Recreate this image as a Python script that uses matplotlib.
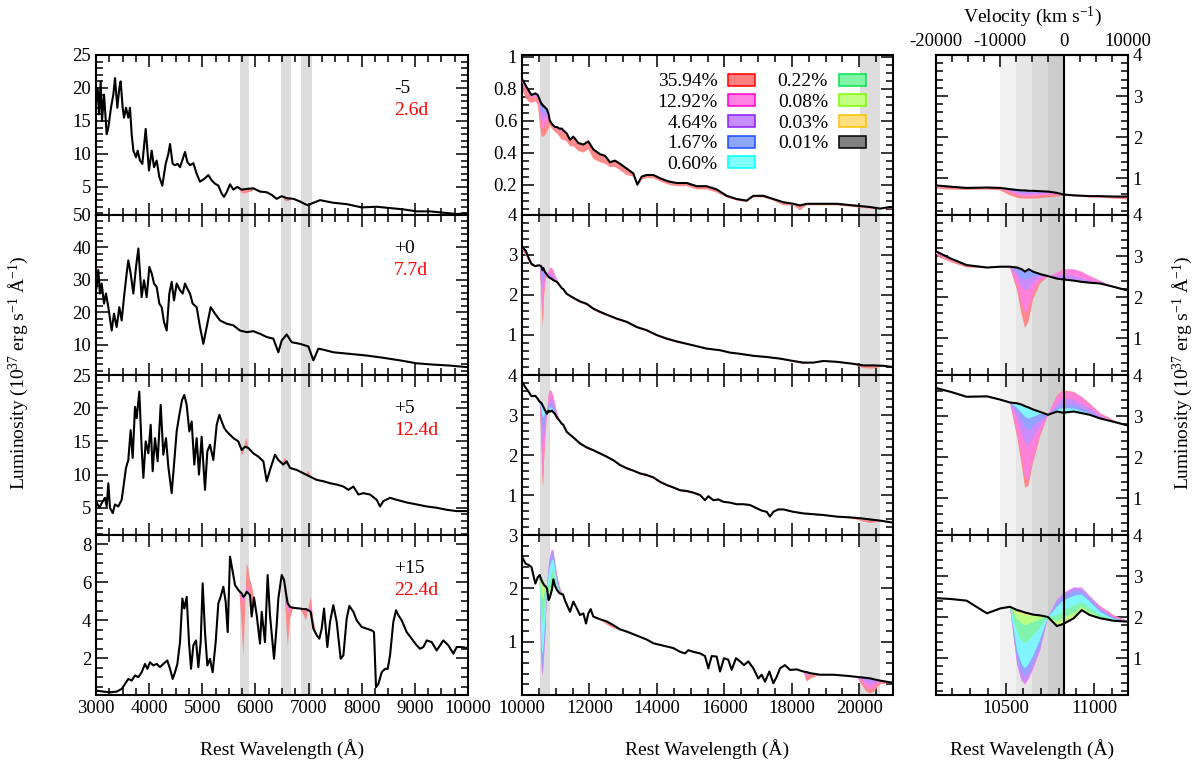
import matplotlib
matplotlib.use("Agg")
import matplotlib.pyplot as plt
from matplotlib.colors import to_rgb
from matplotlib.patches import Patch
from matplotlib.ticker import MultipleLocator, FormatStrFormatter

plt.rcParams.update(
    {
        "font.family": "serif",
        "font.serif": ["Liberation Serif", "DejaVu Serif"],
        "mathtext.fontset": "custom",
        "mathtext.rm": "Liberation Serif",
        "mathtext.it": "Liberation Serif:italic",
        "axes.unicode_minus": False,
        "axes.linewidth": 1.5,
    }
)

C_KMS = 299792.458
HE_REST = 10830.0

epochs = ["-5", "+0", "+5", "+15"]
phases = ["2.6d", "7.7d", "12.4d", "22.4d"]
model_labels = ["35.94%", "12.92%", "4.64%", "1.67%", "0.60%", "0.22%", "0.08%", "0.03%", "0.01%"]
model_colors = ["#ff0000", "#ff00c8", "#8c1aff", "#1a4dff", "#00ffff", "#00e64d", "#80ff00", "#ffbf00", "#000000"]

# ---------------- optical spectra (wavelength, luminosity) ----------------
opt_m5 = [(3000, 18.0), (3031, 20.0), (3056, 16.0), (3088, 21.0), (3113, 15.0), (3151, 19.0), (3201, 13.0),
          (3232, 14.0), (3282, 17.0), (3326, 19.0), (3358, 21.5), (3401, 17.0), (3439, 20.0), (3464, 21.0),
          (3502, 17.0), (3527, 15.5), (3565, 17.0), (3608, 15.5), (3640, 17.0), (3671, 13.0), (3703, 10.5),
          (3753, 9.5), (3784, 10.5), (3828, 9.0), (3872, 8.5), (3935, 13.8), (3997, 7.5), (4048, 10.5),
          (4092, 8.0), (4142, 9.0), (4192, 6.5), (4248, 5.2), (4311, 8.5), (4361, 10.0), (4393, 11.5),
          (4443, 8.5), (4487, 8.3), (4537, 8.5), (4581, 8.0), (4631, 9.2), (4675, 10.3), (4719, 8.8),
          (4769, 8.3), (4832, 8.6), (4894, 7.0), (4957, 5.8), (5033, 6.2), (5114, 6.8), (5177, 6.0),
          (5239, 5.5), (5302, 5.2), (5365, 4.0), (5409, 3.5), (5459, 4.2), (5522, 5.4), (5584, 4.6),
          (5660, 5.0), (5741, 4.6), (5835, 4.7), (5961, 4.8), (6086, 4.3), (6212, 4.2), (6306, 3.8),
          (6400, 3.2), (6494, 3.6), (6588, 3.3), (6714, 3.2), (6839, 2.8), (6933, 2.4), (6996, 2.2),
          (7059, 2.5), (7216, 3.0), (7467, 2.6), (7717, 2.4), (8000, 1.9), (8282, 2.0), (8533, 1.8),
          (8784, 1.6), (9035, 1.3), (9286, 1.3), (9536, 1.1), (9787, 0.9), (10000, 1.0)]

opt_p0 = [(3000, 27.0), (3013, 27.8), (3044, 33.0), (3075, 25.8), (3107, 28.9), (3151, 22.7), (3188, 25.8),
          (3232, 21.6), (3295, 14.4), (3339, 19.6), (3389, 15.5), (3439, 21.6), (3483, 17.5), (3527, 24.7),
          (3577, 32.0), (3608, 36.0), (3652, 32.0), (3703, 25.8), (3753, 34.0), (3797, 39.7), (3828, 32.0),
          (3859, 24.7), (3903, 29.9), (3953, 24.7), (4004, 34.0), (4048, 32.0), (4092, 28.9), (4142, 27.8),
          (4192, 22.7), (4236, 21.6), (4280, 17.0), (4330, 14.4), (4380, 25.8), (4424, 29.4), (4468, 23.7),
          (4518, 28.9), (4581, 26.8), (4631, 25.8), (4675, 28.9), (4719, 27.3), (4769, 25.8), (4819, 22.7),
          (4894, 21.6), (4957, 15.5), (5020, 10.3), (5083, 15.5), (5158, 21.6), (5239, 19.6), (5334, 17.5),
          (5459, 16.5), (5584, 16.0), (5710, 14.4), (5835, 13.9), (5961, 14.2), (6086, 13.4), (6212, 12.4),
          (6337, 11.9), (6431, 7.7), (6494, 11.3), (6588, 13.2), (6682, 10.8), (6839, 10.3), (6996, 9.5),
          (7090, 5.2), (7184, 8.8), (7278, 8.5), (7467, 7.7), (7780, 7.2), (8094, 6.7), (8407, 6.0),
          (8721, 5.2), (9035, 4.3), (9348, 3.9), (9662, 3.6), (10000, 3.1)]

opt_p5 = [(3000, 6.0), (3063, 5.0), (3107, 5.7), (3169, 6.5), (3201, 5.2), (3232, 8.7), (3263, 5.0),
          (3314, 4.2), (3357, 5.5), (3420, 5.2), (3483, 6.2), (3514, 8.0), (3564, 11.0), (3608, 12.2),
          (3652, 16.7), (3690, 12.5), (3734, 20.2), (3765, 18.5), (3815, 22.5), (3859, 14.0), (3891, 9.5),
          (3935, 15.0), (3985, 13.2), (4029, 17.5), (4066, 10.5), (4110, 15.5), (4160, 12.0), (4217, 20.5),
          (4267, 13.0), (4317, 15.5), (4361, 11.2), (4424, 7.2), (4468, 11.5), (4518, 16.5), (4568, 19.0),
          (4618, 21.2), (4662, 22.0), (4706, 20.5), (4756, 16.5), (4800, 18.0), (4850, 11.5), (4894, 15.5),
          (4938, 10.0), (4988, 15.7), (5051, 7.7), (5095, 13.5), (5145, 14.5), (5208, 12.2), (5271, 17.5),
          (5321, 19.0), (5365, 18.0), (5415, 17.0), (5459, 16.5), (5522, 16.0), (5584, 15.5), (5678, 15.0),
          (5741, 13.7), (5804, 14.2), (5867, 14.0), (5961, 13.2), (6055, 12.7), (6149, 12.0), (6212, 9.0),
          (6274, 10.7), (6368, 13.0), (6431, 12.2), (6525, 11.5), (6588, 12.0), (6651, 11.0), (6776, 10.7),
          (6902, 10.2), (7027, 9.7), (7153, 9.2), (7278, 9.0), (7404, 8.7), (7529, 8.5), (7655, 8.2),
          (7749, 7.7), (7843, 8.2), (7937, 7.0), (8031, 7.2), (8156, 7.0), (8282, 6.2), (8345, 5.2),
          (8407, 6.0), (8533, 6.5), (8658, 6.2), (8846, 5.8), (9035, 5.5), (9223, 5.2), (9411, 5.0),
          (9599, 4.7), (9787, 4.5), (9976, 4.5)]

opt_p15 = [(3000, 0.30), (3012, 0.29), (3138, 0.24), (3263, 0.20), (3389, 0.24), (3483, 0.38), (3546, 0.64),
           (3608, 0.91), (3671, 0.82), (3734, 1.09), (3797, 1.00), (3859, 1.26), (3922, 1.70), (3966, 1.44),
           (4016, 1.79), (4079, 1.62), (4142, 1.70), (4204, 1.53), (4267, 1.70), (4342, 1.88), (4393, 1.44),
           (4443, 0.91), (4487, 1.26), (4531, 1.70), (4581, 2.85), (4625, 5.15), (4662, 4.62), (4706, 5.24),
           (4750, 2.85), (4788, 1.44), (4832, 2.68), (4882, 2.94), (4926, 1.53), (4970, 2.85), (5007, 5.95),
           (5051, 3.38), (5095, 1.62), (5145, 1.97), (5195, 1.26), (5252, 2.85), (5302, 4.89), (5346, 5.24),
           (5396, 5.77), (5440, 4.98), (5478, 3.38), (5522, 7.36), (5572, 6.57), (5616, 5.86), (5678, 5.60),
           (5697, 5.54), (5741, 5.42), (5773, 5.24), (5804, 5.33), (5835, 5.51), (5867, 5.42), (5898, 5.33),
           (5929, 4.20), (5973, 5.20), (6024, 4.27), (6086, 2.77), (6118, 4.45), (6180, 2.85), (6230, 6.39),
           (6274, 4.27), (6350, 1.97), (6400, 3.74), (6431, 5.15), (6494, 6.39), (6538, 6.13), (6576, 5.42),
           (6607, 4.89), (6651, 4.71), (6714, 4.66), (6839, 4.62), (6902, 4.59), (6952, 4.59), (6996, 4.53),
           (7040, 4.45), (7090, 3.56), (7153, 3.21), (7203, 3.03), (7247, 3.56), (7291, 4.62), (7353, 2.59),
           (7404, 3.92), (7466, 4.80), (7529, 3.92), (7604, 1.97), (7655, 2.15), (7717, 4.09), (7767, 4.76),
           (7843, 4.45), (7905, 4.00), (7999, 3.65), (8094, 3.56), (8188, 3.47), (8231, 3.38), (8269, 0.47),
           (8313, 0.64), (8376, 1.26), (8439, 1.44), (8489, 1.44), (8533, 2.15), (8595, 3.92), (8646, 4.53),
           (8690, 4.27), (8752, 4.00), (8846, 3.38), (8940, 3.03), (9035, 2.68), (9097, 2.50), (9160, 2.59),
           (9223, 2.94), (9317, 2.85), (9411, 2.41), (9474, 2.68), (9536, 2.94), (9630, 2.68), (9725, 2.24),
           (9787, 2.59), (9881, 2.59), (10000, 2.53)]

# model deviations in the optical He I bands: (wavelength, 0.01% model, 35.94% model[, 12.92% model])
opt_fill_m5 = [(5660, 5.0, 5.0), (5741, 4.6, 4.1), (5804, 4.7, 4.0), (5867, 4.7, 4.2), (5929, 4.8, 4.3),
               (5992, 4.7, 4.7), (6400, 3.2, 3.2), (6494, 3.6, 3.6), (6557, 3.4, 2.9), (6620, 3.28, 2.8),
               (6682, 3.22, 3.22)]
opt_fill_p0 = [(3013, 27.8, 27.8), (3031, 30.5, 31.5), (3044, 33.0, 35.0), (3060, 29.0, 30.0), (3075, 25.8, 25.8)]
opt_fill_p5 = [(5678, 15.0, 15.0), (5710, 14.85, 14.85), (5741, 13.7, 12.9), (5773, 13.9, 13.2), (5804, 14.2, 14.8),
               (5835, 14.1, 15.5), (5867, 14.0, 14.0), (5961, 13.2, 13.2), (6431, 12.2, 12.2), (6494, 11.7, 11.7),
               (6557, 11.8, 12.6), (6620, 11.3, 11.3), (6651, 11.0, 11.0), (6902, 10.2, 10.2), (6952, 10.0, 10.0),
               (6996, 9.9, 10.6), (7040, 9.8, 9.8), (7070, 9.7, 9.7)]
opt_fill_p15 = [(5678, 5.60, 5.60, 5.60), (5697, 5.54, 5.54, 5.54), (5741, 5.42, 3.74, 4.89), (5773, 5.24, 2.15, 4.89),
                (5804, 5.33, 4.27, 5.15), (5835, 5.51, 7.01, 5.86), (5867, 5.42, 6.74, 5.68), (5898, 5.33, 6.13, 5.51),
                (5929, 4.20, 5.90, 4.50), (5973, 5.20, 5.20, 5.20), (6400, 3.74, 3.74, 3.74), (6431, 5.15, 5.15, 5.15),
                (6494, 6.39, 6.39, 6.39), (6538, 6.13, 6.04, 6.09), (6576, 5.42, 4.09, 4.80), (6607, 4.89, 2.59, 4.36),
                (6651, 4.71, 4.09, 4.59), (6714, 4.66, 4.66, 4.66), (6839, 4.62, 4.62, 4.62), (6902, 4.59, 4.30, 4.59),
                (6952, 4.59, 4.00, 4.45), (6996, 4.53, 4.62, 4.53), (7040, 4.45, 5.24, 4.70), (7090, 3.56, 4.09, 3.70),
                (7153, 3.21, 3.21, 3.21)]

# ---------------- He I 10830 region, all models on one wavelength grid ----------------
he_wl = [10000, 10110, 10190, 10280, 10395, 10470, 10525, 10565, 10590, 10610, 10630, 10655,
         10695, 10740, 10790, 10825, 10885, 10930, 10975, 11035, 11110, 11180, 11220]

he_lum_m5 = [0.86, 0.82, 0.79, 0.76, 0.77, 0.76, 0.73, 0.71, 0.70, 0.70, 0.69, 0.69, 0.68, 0.67, 0.64, 0.60, 0.58, 0.57, 0.56, 0.56, 0.55, 0.55, 0.54]
he_mod_m5 = [
    [0.80, 0.74, 0.72, 0.71, 0.72, 0.70, 0.58, 0.52, 0.50, 0.50, 0.50, 0.50, 0.51, 0.53, 0.55, 0.57, 0.55, 0.54, 0.53, 0.52, 0.50, 0.48, 0.48],
    [0.84, 0.79, 0.77, 0.74, 0.75, 0.74, 0.66, 0.59, 0.56, 0.55, 0.55, 0.56, 0.57, 0.59, 0.61, 0.59, 0.57, 0.56, 0.55, 0.55, 0.54, 0.53, 0.52],
    [0.85, 0.81, 0.78, 0.75, 0.76, 0.75, 0.69, 0.63, 0.61, 0.60, 0.60, 0.61, 0.62, 0.63, 0.63, 0.60, 0.58, 0.57, 0.56, 0.56, 0.55, 0.54, 0.53],
    [0.86, 0.82, 0.79, 0.76, 0.77, 0.76, 0.71, 0.67, 0.65, 0.65, 0.65, 0.65, 0.65, 0.65, 0.64, 0.60, 0.58, 0.57, 0.56, 0.56, 0.55, 0.55, 0.54],
]

he_lum_p0 = [3.20, 3.11, 2.94, 2.78, 2.72, 2.74, 2.74, 2.72, 2.68, 2.62, 2.68, 2.62, 2.56, 2.51, 2.45, 2.43, 2.40, 2.37, 2.35, 2.33, 2.25, 2.17, 2.15]
he_mod_p0 = [
    [3.10, 3.00, 2.85, 2.72, 2.70, 2.73, 2.72, 2.17, 1.60, 1.24, 1.40, 1.94, 2.33, 2.50, 2.55, 2.66, 2.66, 2.60, 2.50, 2.38, 2.24, 2.15, 2.12],
    [3.15, 3.05, 2.90, 2.76, 2.71, 2.74, 2.73, 2.30, 1.85, 1.60, 1.70, 2.10, 2.40, 2.50, 2.60, 2.68, 2.68, 2.62, 2.52, 2.40, 2.25, 2.17, 2.15],
    [3.20, 3.11, 2.94, 2.78, 2.72, 2.74, 2.74, 2.50, 2.25, 2.17, 2.20, 2.35, 2.48, 2.51, 2.52, 2.55, 2.52, 2.46, 2.40, 2.35, 2.25, 2.17, 2.15],
    [3.20, 3.11, 2.94, 2.78, 2.72, 2.74, 2.74, 2.62, 2.45, 2.42, 2.45, 2.50, 2.54, 2.51, 2.47, 2.46, 2.40, 2.37, 2.35, 2.33, 2.25, 2.17, 2.15],
]

he_lum_p5 = [3.83, 3.68, 3.59, 3.47, 3.48, 3.40, 3.33, 3.31, 3.28, 3.24, 3.21, 3.16, 3.10, 3.03, 3.11, 3.08, 3.11, 3.07, 3.03, 2.94, 2.86, 2.78, 2.76]
he_mod_p5 = [
    [3.80, 3.65, 3.57, 3.45, 3.46, 3.39, 3.33, 2.50, 1.85, 1.25, 1.30, 1.85, 2.50, 3.03, 3.50, 3.63, 3.59, 3.47, 3.31, 3.07, 2.90, 2.78, 2.76],
    [3.83, 3.68, 3.59, 3.47, 3.48, 3.40, 3.33, 2.60, 2.05, 1.50, 1.45, 1.95, 2.55, 3.03, 3.48, 3.60, 3.57, 3.45, 3.28, 3.05, 2.88, 2.78, 2.76],
    [3.83, 3.68, 3.59, 3.47, 3.48, 3.40, 3.33, 2.95, 2.60, 2.35, 2.27, 2.45, 2.75, 3.03, 3.30, 3.43, 3.40, 3.30, 3.18, 3.00, 2.87, 2.78, 2.76],
    [3.83, 3.68, 3.59, 3.47, 3.48, 3.40, 3.33, 3.10, 2.90, 2.72, 2.66, 2.75, 2.90, 3.03, 3.20, 3.30, 3.28, 3.20, 3.10, 2.97, 2.86, 2.78, 2.76],
    [3.83, 3.68, 3.59, 3.47, 3.48, 3.40, 3.33, 3.20, 3.08, 2.98, 2.94, 2.98, 3.05, 3.03, 3.15, 3.19, 3.18, 3.12, 3.05, 2.94, 2.86, 2.78, 2.76],
]

he_lum_p15 = [2.59, 2.46, 2.44, 2.40, 2.09, 2.21, 2.25, 2.17, 2.14, 2.11, 2.09, 2.06, 2.04, 2.00, 1.78, 1.83, 1.97, 2.17, 2.05, 1.97, 1.91, 1.89, 1.88]
he_mod_p15 = [
    [2.59, 2.46, 2.44, 2.40, 2.09, 2.21, 2.25, 1.10, 0.70, 0.60, 0.70, 0.95, 1.35, 2.00, 2.30, 2.45, 2.60, 2.62, 2.50, 2.27, 2.05, 1.93, 1.90],
    [2.59, 2.46, 2.44, 2.40, 2.09, 2.21, 2.25, 0.85, 0.45, 0.35, 0.48, 0.72, 1.18, 2.00, 2.40, 2.57, 2.72, 2.72, 2.52, 2.25, 2.03, 1.92, 1.90],
    [2.59, 2.46, 2.44, 2.40, 2.09, 2.21, 2.25, 0.87, 0.47, 0.39, 0.51, 0.75, 1.20, 2.00, 2.42, 2.58, 2.72, 2.70, 2.50, 2.21, 2.00, 1.91, 1.89],
    [2.59, 2.46, 2.44, 2.40, 2.09, 2.21, 2.25, 1.00, 0.65, 0.55, 0.65, 0.88, 1.30, 2.00, 2.35, 2.50, 2.64, 2.64, 2.45, 2.18, 1.98, 1.90, 1.88],
    [2.59, 2.46, 2.44, 2.40, 2.09, 2.21, 2.25, 1.20, 0.85, 0.75, 0.85, 1.05, 1.45, 2.00, 2.25, 2.40, 2.52, 2.55, 2.38, 2.12, 1.96, 1.89, 1.88],
    [2.59, 2.46, 2.44, 2.40, 2.09, 2.21, 2.25, 1.65, 1.42, 1.36, 1.42, 1.55, 1.75, 2.00, 2.05, 2.15, 2.28, 2.37, 2.22, 2.05, 1.94, 1.89, 1.88],
    [2.59, 2.46, 2.44, 2.40, 2.09, 2.21, 2.25, 1.95, 1.85, 1.80, 1.82, 1.88, 1.95, 2.00, 1.90, 1.98, 2.10, 2.25, 2.12, 2.00, 1.92, 1.89, 1.88],
    [2.59, 2.46, 2.44, 2.40, 2.09, 2.21, 2.25, 2.12, 2.07, 2.05, 2.04, 2.03, 2.02, 2.00, 1.82, 1.88, 2.02, 2.20, 2.08, 1.98, 1.91, 1.89, 1.88],
]

# ---------------- NIR beyond 11220 A: (wavelength, 0.01% model, 35.94% model[, 12.92%, 4.64%]) ----------------
nir_m5 = [(11325, 0.52, 0.47), (11423, 0.48, 0.44), (11522, 0.50, 0.44), (11671, 0.46, 0.41), (11819, 0.45, 0.40),
          (11967, 0.47, 0.42), (12115, 0.42, 0.36), (12313, 0.39, 0.34), (12461, 0.38, 0.33), (12609, 0.34, 0.31),
          (12758, 0.35, 0.31), (12906, 0.33, 0.29), (13104, 0.30, 0.26), (13301, 0.27, 0.25), (13420, 0.20, 0.19),
          (13548, 0.25, 0.23), (13697, 0.26, 0.24), (13894, 0.26, 0.24), (14092, 0.24, 0.22), (14339, 0.22, 0.20),
          (14586, 0.21, 0.19), (14883, 0.21, 0.19), (15179, 0.19, 0.17), (15475, 0.19, 0.17), (15772, 0.17, 0.15),
          (16068, 0.13, 0.12), (16365, 0.11, 0.10), (16661, 0.10, 0.09), (16859, 0.13, 0.12), (17156, 0.13, 0.12),
          (17452, 0.11, 0.10), (17749, 0.09, 0.07), (18045, 0.08, 0.07), (18243, 0.07, 0.04), (18440, 0.08, 0.07),
          (18836, 0.08, 0.07), (19330, 0.08, 0.07), (19824, 0.07, 0.06), (20318, 0.06, 0.05), (20615, 0.05, 0.05),
          (20911, 0.06, 0.05), (21000, 0.06, 0.05)]

nir_p0 = [(11325, 2.03, 2.00), (11522, 1.93, 1.90), (11720, 1.84, 1.80), (11918, 1.78, 1.74), (12115, 1.66, 1.62),
          (12313, 1.58, 1.54), (12511, 1.51, 1.48), (12807, 1.41, 1.38), (13104, 1.33, 1.30), (13400, 1.20, 1.17),
          (13697, 1.12, 1.09), (13993, 1.00, 0.97), (14290, 0.91, 0.88), (14586, 0.84, 0.81), (14883, 0.78, 0.76),
          (15179, 0.72, 0.70), (15475, 0.66, 0.64), (15871, 0.62, 0.60), (16167, 0.56, 0.54), (16464, 0.53, 0.51),
          (16859, 0.48, 0.46), (17254, 0.45, 0.43), (17650, 0.41, 0.39), (18045, 0.35, 0.33), (18341, 0.31, 0.27),
          (18638, 0.31, 0.30), (18935, 0.35, 0.34), (19330, 0.33, 0.32), (19824, 0.28, 0.27), (20120, 0.24, 0.17),
          (20417, 0.24, 0.16), (20713, 0.23, 0.22), (21000, 0.20, 0.20)]

nir_p5 = [(11325, 2.58, 2.55), (11522, 2.44, 2.41), (11720, 2.29, 2.26), (11918, 2.19, 2.16), (12115, 2.12, 2.09),
          (12313, 2.04, 2.01), (12511, 1.96, 1.93), (12708, 1.87, 1.84), (12906, 1.75, 1.72), (13104, 1.67, 1.64),
          (13301, 1.61, 1.58), (13499, 1.54, 1.51), (13697, 1.50, 1.47), (13894, 1.44, 1.41), (14092, 1.33, 1.30),
          (14290, 1.25, 1.22), (14487, 1.19, 1.16), (14685, 1.12, 1.09), (14883, 1.10, 1.07), (15080, 1.06, 1.03),
          (15278, 1.00, 0.97), (15426, 0.87, 0.85), (15525, 0.97, 0.95), (15673, 0.87, 0.85), (15821, 0.89, 0.87),
          (15970, 0.83, 0.81), (16167, 0.81, 0.79), (16365, 0.77, 0.75), (16563, 0.77, 0.75), (16760, 0.75, 0.73),
          (16958, 0.67, 0.65), (17106, 0.61, 0.59), (17254, 0.58, 0.56), (17353, 0.46, 0.44), (17452, 0.58, 0.56),
          (17601, 0.64, 0.62), (17749, 0.64, 0.62), (18045, 0.58, 0.56), (18341, 0.54, 0.52), (18638, 0.52, 0.50),
          (18935, 0.50, 0.48), (19330, 0.46, 0.44), (19725, 0.44, 0.42), (20022, 0.42, 0.36), (20318, 0.39, 0.30),
          (20615, 0.36, 0.33), (20990, 0.31, 0.31)]

nir_p15 = [(11275, 1.77, 1.77, 1.77, 1.77), (11423, 1.56, 1.56, 1.56, 1.56), (11522, 1.75, 1.75, 1.75, 1.75),
           (11621, 1.63, 1.63, 1.63, 1.63), (11720, 1.50, 1.50, 1.50, 1.50), (11819, 1.53, 1.53, 1.53, 1.53),
           (11898, 1.34, 1.34, 1.34, 1.34), (11967, 1.53, 1.53, 1.53, 1.53), (12036, 1.61, 1.61, 1.61, 1.61),
           (12115, 1.47, 1.47, 1.47, 1.47), (12313, 1.42, 1.42, 1.42, 1.42), (12511, 1.38, 1.32, 1.38, 1.38),
           (12708, 1.31, 1.25, 1.31, 1.31), (12906, 1.23, 1.23, 1.23, 1.23), (13104, 1.19, 1.19, 1.19, 1.19),
           (13301, 1.14, 1.14, 1.14, 1.14), (13499, 1.09, 1.09, 1.09, 1.09), (13697, 1.04, 1.04, 1.04, 1.04),
           (13894, 0.97, 0.97, 0.97, 0.97), (14092, 0.94, 0.94, 0.94, 0.94), (14290, 0.91, 0.91, 0.91, 0.91),
           (14487, 0.88, 0.88, 0.88, 0.88), (14685, 0.81, 0.81, 0.81, 0.81), (14833, 0.78, 0.78, 0.78, 0.78),
           (14932, 0.84, 0.84, 0.84, 0.84), (15080, 0.81, 0.81, 0.81, 0.81), (15278, 0.78, 0.78, 0.78, 0.78),
           (15426, 0.73, 0.73, 0.73, 0.73), (15525, 0.50, 0.50, 0.50, 0.50), (15624, 0.73, 0.73, 0.73, 0.73),
           (15772, 0.72, 0.72, 0.72, 0.72), (15871, 0.44, 0.44, 0.44, 0.44), (15989, 0.69, 0.69, 0.69, 0.69),
           (16118, 0.66, 0.66, 0.66, 0.66), (16217, 0.47, 0.47, 0.47, 0.47), (16345, 0.69, 0.69, 0.69, 0.69),
           (16464, 0.63, 0.63, 0.63, 0.63), (16582, 0.56, 0.56, 0.56, 0.56), (16711, 0.63, 0.63, 0.63, 0.63),
           (16859, 0.50, 0.50, 0.50, 0.50), (17007, 0.31, 0.31, 0.31, 0.31), (17106, 0.38, 0.38, 0.38, 0.38),
           (17205, 0.25, 0.25, 0.25, 0.25), (17334, 0.44, 0.44, 0.44, 0.44), (17452, 0.22, 0.22, 0.22, 0.22),
           (17551, 0.34, 0.34, 0.34, 0.34), (17650, 0.50, 0.50, 0.50, 0.50), (17798, 0.56, 0.56, 0.56, 0.56),
           (17946, 0.47, 0.47, 0.47, 0.47), (18144, 0.48, 0.48, 0.48, 0.48), (18341, 0.44, 0.44, 0.44, 0.44),
           (18440, 0.43, 0.25, 0.33, 0.38), (18539, 0.41, 0.30, 0.38, 0.41), (18836, 0.38, 0.38, 0.38, 0.38),
           (19231, 0.38, 0.38, 0.38, 0.38), (19626, 0.36, 0.36, 0.36, 0.36), (19923, 0.34, 0.34, 0.34, 0.34),
           (20071, 0.33, 0.20, 0.25, 0.30), (20219, 0.32, 0.06, 0.13, 0.22), (20338, 0.31, 0.03, 0.10, 0.20),
           (20466, 0.29, 0.08, 0.15, 0.23), (20615, 0.27, 0.20, 0.24, 0.26), (20990, 0.23, 0.23, 0.23, 0.23)]

# shaded He I windows
opt_bands = [(5710, 5876), (6482, 6678), (6858, 7065)]
nir_bands = [(10530, 10830), (20010, 20600)]
vel_bands = [(-10000, -7500), (-7500, -5000), (-5000, -2500), (-2500, 0)]
vel_band_colors = ["#f2f2f2", "#e6e6e6", "#d9d9d9", "#cccccc"]

# axis limits / ticks per row
opt_ylims = [(0.75, 25), (0.7, 50), (0.9, 25), (0.06, 8.5)]
opt_yticks = [[5, 10, 15, 20, 25], [10, 20, 30, 40, 50], [5, 10, 15, 20, 25], [2, 4, 6, 8]]
opt_yminor = [1, 2, 1, 0.5]
nir_ylims = [(0.01, 1.01), (0, 4), (0, 4), (0, 3)]
nir_yticks = [[0.2, 0.4, 0.6, 0.8, 1.0], [1, 2, 3, 4], [1, 2, 3, 4], [1, 2, 3]]
nir_yminor = [0.05, 0.2, 0.2, 0.2]


def lam2vel(lam):
    return C_KMS * (lam - HE_REST) / HE_REST


def vel2lam(v):
    return HE_REST * (1 + v / C_KMS)


def light(c, f=0.5):
    r, g, b = to_rgb(c)
    return (f * r + 1 - f, f * g + 1 - f, f * b + 1 - f)


def style_axis(ax):
    ax.tick_params(which="both", direction="in", top=True, right=True, labelsize=13.5)
    ax.tick_params(which="major", length=8.5, width=1.1)
    ax.tick_params(which="minor", length=5, width=1.1)


def fill_models(ax, wl, base, models):
    for k, mod in enumerate(models):
        ax.fill_between(wl, base, mod, facecolor=light(model_colors[k]), alpha=0.9,
                        lw=0, zorder=2 + k)


def main():
    fig = plt.figure(figsize=(12, 7.64), dpi=100)
    W, H = 1200.0, 764.0
    col_x = [96, 522, 936]
    col_w = [372, 371, 192]
    top, row_h = 55, 160

    opt_data = [opt_m5, opt_p0, opt_p5, opt_p15]
    opt_fill = [opt_fill_m5, opt_fill_p0, opt_fill_p5, opt_fill_p15]
    he_lum = [he_lum_m5, he_lum_p0, he_lum_p5, he_lum_p15]
    he_mod = [he_mod_m5, he_mod_p0, he_mod_p5, he_mod_p15]
    nir_data = [nir_m5, nir_p0, nir_p5, nir_p15]

    for r in range(4):
        bottom = 1 - (top + row_h * (r + 1)) / H
        axes = [fig.add_axes([col_x[c] / W, bottom, col_w[c] / W, row_h / H]) for c in range(3)]
        ax_o, ax_n, ax_h = axes
        for ax in axes:
            style_axis(ax)

        # ---- optical ----
        for lo, hi in opt_bands:
            ax_o.axvspan(lo, hi, color="#dddddd", lw=0, zorder=0)
        fw = [row[0] for row in opt_fill[r]]
        fb = [row[1] for row in opt_fill[r]]
        fm = [[row[k] for row in opt_fill[r]] for k in range(2, len(opt_fill[r][0]))]
        fill_models(ax_o, fw, fb, fm)
        ax_o.plot([p[0] for p in opt_data[r]], [p[1] for p in opt_data[r]], color="k", lw=1.5,
                  solid_joinstyle="round", zorder=20)
        ax_o.set_xlim(3000, 10000)
        ax_o.set_ylim(*opt_ylims[r])
        ax_o.set_yticks(opt_yticks[r])
        ax_o.yaxis.set_minor_locator(MultipleLocator(opt_yminor[r]))
        ax_o.xaxis.set_major_locator(MultipleLocator(1000))
        ax_o.xaxis.set_minor_locator(MultipleLocator(250))
        ax_o.text(0.801, 0.79, epochs[r], transform=ax_o.transAxes, fontsize=14, va="center")
        ax_o.text(0.801, 0.655, phases[r], transform=ax_o.transAxes, fontsize=14, va="center", color="red")

        # ---- NIR: he region + rest ----
        nir = nir_data[r]
        n_wl = [row[0] for row in nir]
        n_lum = [row[1] for row in nir]
        n_mod = [[row[k] for row in nir] for k in range(2, len(nir[0]))]
        mid_wl = he_wl + n_wl
        mid_lum = he_lum[r] + n_lum
        mid_mod = []
        for k in range(8):
            hp = he_mod[r][k] if k < len(he_mod[r]) else he_lum[r]
            npart = n_mod[k] if k < len(n_mod) else n_lum
            mid_mod.append(list(hp) + list(npart))

        for lo, hi in nir_bands:
            ax_n.axvspan(lo, hi, color="#dddddd", lw=0, zorder=0)
        fill_models(ax_n, mid_wl, mid_lum, mid_mod)
        ax_n.plot(mid_wl, mid_lum, color="k", lw=1.5, solid_joinstyle="round", zorder=20)
        ax_n.set_xlim(10000, 21000)
        ax_n.set_ylim(*nir_ylims[r])
        ax_n.set_yticks(nir_yticks[r])
        ax_n.yaxis.set_major_formatter(FormatStrFormatter("%g"))
        ax_n.yaxis.set_minor_locator(MultipleLocator(nir_yminor[r]))
        ax_n.xaxis.set_major_locator(MultipleLocator(2000))
        ax_n.xaxis.set_minor_locator(MultipleLocator(500))

        # ---- He I zoom ----
        for (v0, v1), col in zip(vel_bands, vel_band_colors):
            ax_h.axvspan(vel2lam(v0), vel2lam(v1), color=col, lw=0, zorder=0)
        ax_h.axvline(HE_REST, color="k", lw=1.5, zorder=21)
        fill_models(ax_h, mid_wl, mid_lum, mid_mod)
        ax_h.plot(mid_wl, mid_lum, color="k", lw=1.5, solid_joinstyle="round", zorder=20)
        ax_h.set_xlim(vel2lam(-20000), vel2lam(10000))
        ax_h.set_ylim(0.1, 4.0)
        ax_h.set_yticks([1, 2, 3, 4])
        ax_h.yaxis.set_minor_locator(MultipleLocator(0.2))
        ax_h.xaxis.set_major_locator(MultipleLocator(500))
        ax_h.xaxis.set_minor_locator(MultipleLocator(100))
        ax_h.tick_params(labelleft=False, labelright=True)

        if r < 3:
            for ax in axes:
                ax.tick_params(labelbottom=False)

        if r == 0:
            ax_h.tick_params(which="both", top=False)
            sec = ax_h.secondary_xaxis("top", functions=(lam2vel, vel2lam))
            sec.set_xticks([-20000, -10000, 0, 10000])
            sec.xaxis.set_minor_locator(MultipleLocator(2500))
            sec.tick_params(which="both", direction="in", labelsize=13.5)
            sec.tick_params(which="major", length=8.5, width=1.1)
            sec.tick_params(which="minor", length=5, width=1.1)

            handles = [Patch(facecolor=light(c), edgecolor=c, linewidth=1.1) for c in model_colors]
            ax_n.legend(handles, model_labels, ncol=2, markerfirst=False, frameon=False,
                        loc="upper right", bbox_to_anchor=(0.927, 0.885), borderpad=0, borderaxespad=0,
                        fontsize=14, handlelength=1.4, handleheight=0.57, handletextpad=0.55,
                        columnspacing=1.15, labelspacing=0.19)

    ylab = "Luminosity (10$^{37}$ erg s$^{-1}$ Å$^{-1}$)"
    fig.text(18 / W, 1 - 373 / H, ylab, rotation=90, ha="center", va="center", fontsize=14)
    fig.text(1182 / W, 1 - 373 / H, ylab, rotation=90, ha="center", va="center", fontsize=14)
    for c in range(3):
        fig.text((col_x[c] + col_w[c] / 2) / W, 1 - 749 / H, "Rest Wavelength (Å)",
                 ha="center", va="center", fontsize=14)
    fig.text((col_x[2] + col_w[2] / 2) / W, 1 - 17 / H, "Velocity (km s$^{-1}$)",
             ha="center", va="center", fontsize=14)

    fig.savefig("out.png", dpi=100)
    plt.close(fig)


if __name__ == "__main__":
    main()
